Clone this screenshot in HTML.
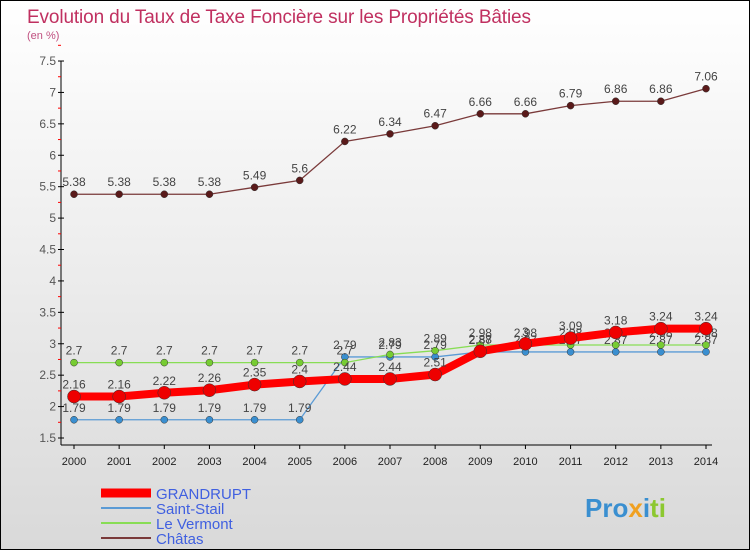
<!DOCTYPE html>
<html><head><meta charset="utf-8"><style>
body{margin:0}
#w{width:748px;height:548px;border:1px solid #000;background:linear-gradient(#fff,#d9d9d9);position:relative;overflow:hidden;font-family:"Liberation Sans",sans-serif}
text{font-family:"Liberation Sans",sans-serif}
</style></head><body>
<div id="w">
<svg id="s" width="748" height="548">
<text x="26" y="22" font-size="19" fill="#c03060" textLength="504">Evolution du Taux de Taxe Foncière sur les Propriétés Bâties</text>
<text x="26" y="38" font-size="11" fill="#c05080">(en %)</text>
<text x="584" y="516" font-size="26" font-weight="bold" fill="#3a8fd0">Pro<tspan fill="#f0a020">x</tspan><tspan fill="#3a8fd0">i</tspan><tspan fill="#8cc830">ti</tspan></text>
</svg>
</div>
<script>
const years=[2000,2001,2002,2003,2004,2005,2006,2007,2008,2009,2010,2011,2012,2013,2014];
const yTicks=[1.5,2,2.5,3,3.5,4,4.5,5,5.5,6,6.5,7,7.5];
const grandrupt=[2.16,2.16,2.22,2.26,2.35,2.4,2.44,2.44,2.51,2.88,3,3.09,3.18,3.24,3.24];
const saintStail=[1.79,1.79,1.79,1.79,1.79,1.79,2.79,2.79,2.79,2.87,2.87,2.87,2.87,2.87,2.87];
const leVermont=[2.7,2.7,2.7,2.7,2.7,2.7,2.7,2.83,2.89,2.98,2.98,2.98,2.98,2.98,2.98];
const chatas=[5.38,5.38,5.38,5.38,5.49,5.6,6.22,6.34,6.47,6.66,6.66,6.79,6.86,6.86,7.06];
const NS="http://www.w3.org/2000/svg",s=document.getElementById('s');
const X=i=>73+i*(632/(years.length-1));
const Y=v=>437-(v-1.5)*62.83;
function el(t,a,p){const e=document.createElementNS(NS,t);for(const k in a)e.setAttribute(k,a[k]);(p||s).appendChild(e);return e;}
const ax=el('g',{});


el('line',{x1:60,y1:Y(7.5),x2:60,y2:444,stroke:'#000'},ax);
el('line',{x1:60,y1:444,x2:X(14)+6,y2:444,stroke:'#000'},ax);
yTicks.forEach(v=>{
 el('line',{x1:57,x2:63,y1:Y(v),y2:Y(v),stroke:'#000'},ax);
 el('line',{x1:57,x2:60,y1:Y(v+0.25),y2:Y(v+0.25),stroke:'#f00'},ax);
 const t=el('text',{x:55,y:Y(v)+4,'font-size':12,fill:'#555','text-anchor':'end'},ax);
 
 
 t.textContent=String(v);
});
years.forEach((y,i)=>{
 el('line',{x1:X(i),x2:X(i),y1:444,y2:448,stroke:'#000'},ax);
 const t=el('text',{x:X(i),y:464,'font-size':11,fill:'#222','text-anchor':'middle'},ax);
 
 
 t.textContent=y;
});
function series(d,name,color,w,r,fill){
 const g=el('g',{});
 
 
 el('polyline',{points:d.map((v,i)=>X(i)+','+Y(v)).join(' '),fill:'none',stroke:color,'stroke-width':w},g);
 d.forEach((v,i)=>{
  const c=el('circle',{cx:X(i),cy:Y(v),r:r,fill:fill,stroke:'#333','stroke-width':0.5},g);
  
  
  const t=el('text',{x:X(i),y:Y(v)-8,'font-size':12,fill:'#444','text-anchor':'middle'},g);
  
  
  t.textContent=String(v);
 });
}
series(saintStail,'saint-stail','#5b9bd5',1.3,3.5,'#3a8fd0');
series(leVermont,'le-vermont','#88dd55',1.3,3.5,'#77cc33');
series(chatas,'chatas','#7a3a3a',1.3,3.5,'#5a1a1a');
series(grandrupt,'grandrupt','#ff0000',8,6.5,'#ee0000');
const leg=[['GRANDRUPT','#ff0000',9],['Saint-Stail','#5b9bd5',2],['Le Vermont','#88dd55',2],['Châtas','#7a3a3a',2]];
leg.forEach((l,i)=>{
 const g=el('g',{});
 
 
 const y=492+i*15;
 el('line',{x1:100,x2:150,y1:y,y2:y,stroke:l[1],'stroke-width':l[2]},g);
 const t=el('text',{x:155,y:y+6,'font-size':15,fill:'#4060e0'},g);
 t.textContent=l[0];
});
</script>
</body></html>
